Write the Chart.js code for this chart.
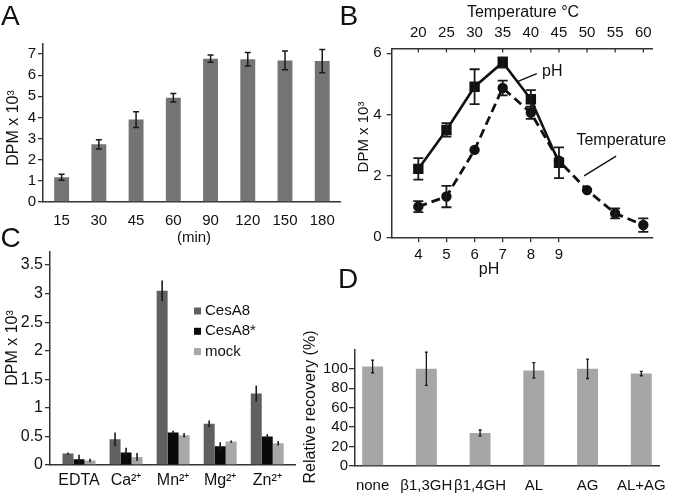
<!DOCTYPE html>
<html>
<head>
<meta charset="utf-8">
<script src="https://cdn.jsdelivr.net/npm/chart.js@4.4.1/dist/chart.umd.min.js"></script>
<style>
body { margin: 0; background: #fff; }
#wrap { position: relative; width: 677px; height: 496px; overflow: hidden; }
canvas { position: absolute; }
</style>
</head>
<body>
<div id="wrap">
<canvas id="chartA" width="345" height="250" style="left:0px;top:0px"></canvas>
<canvas id="chartB" width="347" height="285" style="left:330px;top:0px"></canvas>
<canvas id="chartC" width="340" height="276" style="left:0px;top:220px"></canvas>
<canvas id="chartD" width="382" height="241" style="left:295px;top:255px"></canvas>
</div>
<script>
// A - time course
const timeLabels = ['15', '30', '45', '60', '90', '120', '150', '180'];
const timeDPM = [1.17, 2.73, 3.9, 4.93, 6.78, 6.76, 6.7, 6.67];
const timeErr = [0.14, 0.22, 0.37, 0.2, 0.17, 0.32, 0.44, 0.55];
const timeTicks = [0, 1, 2, 3, 4, 5, 6, 7];

// B - pH and temperature
const phValues = [4, 5, 6, 7, 8, 9];
const phDPM = [2.23, 3.5, 4.91, 5.7, 4.5, 2.43];
const phErr = [0.35, 0.22, 0.57, 0.17, 0.3, 0.5];
const tempValues = [20, 25, 30, 35, 40, 45, 50, 55, 60];
const tempDPM = [1.0, 1.33, 2.85, 4.87, 4.06, 2.5, 1.54, 0.78, 0.4];
const tempErr = [0.18, 0.35, 0, 0.24, 0.2, 0, 0, 0.16, 0.22];
const dpmTicksB = [0, 2, 4, 6];

// C - metal ions
const ionLabels = ['EDTA', 'Ca²⁺', 'Mn²⁺', 'Mg²⁺', 'Zn²⁺'];
const cesA8 = [0.2, 0.45, 3.05, 0.72, 1.25];
const cesA8Err = [0.02, 0.12, 0.18, 0.06, 0.14];
const cesA8mut = [0.1, 0.22, 0.57, 0.33, 0.5];
const cesA8mutErr = [0.08, 0.08, 0.03, 0.07, 0.04];
const mock = [0.08, 0.14, 0.52, 0.41, 0.38];
const mockErr = [0.03, 0.07, 0.04, 0.02, 0.04];
const dpmTicksC = [0, 0.5, 1, 1.5, 2, 2.5, 3, 3.5];

// D - relative recovery
const enzymeLabels = ['none', 'β1,3GH', 'β1,4GH', 'AL', 'AG', 'AL+AG'];
const recovery = [102.4, 100, 34, 98.3, 100, 95];
const recoveryErr = [6.5, 17, 3, 8, 10, 2.2];
const recoveryTicks = [0, 20, 40, 60, 80, 100];

const FONT = "'Liberation Sans', Arial, Helvetica, sans-serif";
const AXIS = '#333';
Chart.defaults.font.family = FONT;
Chart.defaults.font.size = 15;
Chart.defaults.color = '#111';
Chart.defaults.animation = false;
Chart.defaults.plugins.legend.display = false;
Chart.defaults.plugins.tooltip.enabled = false;

// vertical error bars from a dataset's "errors" array
const errorBars = {
    id: 'errorBars',
    afterDatasetsDraw(chart, args, opts) {
        const ctx = chart.ctx;
        chart.data.datasets.forEach((ds, i) => {
            if (!ds.errors) return;
            const meta = chart.getDatasetMeta(i);
            const ys = chart.scales[meta.yAxisID];
            ctx.save();
            ctx.strokeStyle = opts.color || '#1a1a1a';
            ctx.lineWidth = opts.width || 1.5;
            meta.data.forEach((el, j) => {
                const e = ds.errors[j];
                if (!e) return;
                const d = ds.data[j];
                const v = typeof d === 'object' ? d.y : d;
                const top = ys.getPixelForValue(v + e);
                const bot = ys.getPixelForValue(v - e);
                const cap = opts.cap || 0;
                ctx.beginPath();
                ctx.moveTo(el.x, top);
                ctx.lineTo(el.x, bot);
                if (cap) {
                    ctx.moveTo(el.x - cap, top);
                    ctx.lineTo(el.x + cap, top);
                    ctx.moveTo(el.x - cap, bot);
                    ctx.lineTo(el.x + cap, bot);
                }
                ctx.stroke();
            });
            ctx.restore();
        });
    }
};

// free text: panel letters, axis titles
const texts = {
    id: 'texts',
    afterDraw(chart, args, opts) {
        const ctx = chart.ctx;
        (opts.items || []).forEach(it => {
            ctx.save();
            ctx.font = (it.size || 15) + 'px ' + FONT;
            ctx.fillStyle = '#111';
            ctx.textAlign = it.align || 'center';
            ctx.textBaseline = it.base || 'middle';
            ctx.translate(it.x, it.y);
            if (it.rot) ctx.rotate(it.rot);
            ctx.fillText(it.t, 0, 0);
            ctx.restore();
        });
    }
};

// labels with leader lines, placed in data coordinates
const callouts = {
    id: 'callouts',
    afterDatasetsDraw(chart, args, opts) {
        if (!opts.items) return;
        const xs = chart.scales.x, ys = chart.scales.y, ctx = chart.ctx;
        opts.items.forEach(c => {
            ctx.save();
            ctx.strokeStyle = '#111';
            ctx.lineWidth = 1.4;
            ctx.beginPath();
            ctx.moveTo(xs.getPixelForValue(c.line[0]), ys.getPixelForValue(c.line[1]));
            ctx.lineTo(xs.getPixelForValue(c.line[2]), ys.getPixelForValue(c.line[3]));
            ctx.stroke();
            ctx.font = '16px ' + FONT;
            ctx.fillStyle = '#111';
            ctx.textAlign = 'left';
            ctx.textBaseline = 'middle';
            ctx.fillText(c.t, xs.getPixelForValue(c.x), ys.getPixelForValue(c.y));
            ctx.restore();
        });
    }
};

// tick marks pointing into the plot (top axis of B)
const innerTicks = {
    id: 'innerTicks',
    afterDraw(chart, args, opts) {
        if (!opts.axis) return;
        const s = chart.scales[opts.axis], ctx = chart.ctx;
        ctx.save();
        ctx.strokeStyle = AXIS;
        ctx.lineWidth = 1.3;
        s.ticks.forEach(t => {
            const x = s.getPixelForValue(t.value);
            ctx.beginPath();
            ctx.moveTo(x, s.bottom);
            ctx.lineTo(x, s.bottom + opts.len);
            ctx.stroke();
        });
        ctx.restore();
    }
};

// small square legend inside panel C
const boxLegend = {
    id: 'boxLegend',
    afterDraw(chart, args, opts) {
        if (!opts.x) return;
        const ctx = chart.ctx;
        ctx.save();
        ctx.font = '15px ' + FONT;
        ctx.textBaseline = 'middle';
        ctx.textAlign = 'left';
        chart.data.datasets.forEach((ds, i) => {
            const y = opts.y + i * opts.gap;
            ctx.fillStyle = ds.backgroundColor;
            ctx.fillRect(opts.x, y - 3.5, 7, 7);
            ctx.fillStyle = '#111';
            ctx.fillText(ds.label, opts.x + 11, y);
        });
        ctx.restore();
    }
};

Chart.register(errorBars, texts, callouts, innerTicks, boxLegend);

const border = { color: AXIS, width: 1.5 };
const setTicks = list => s => { s.ticks = list.map(v => ({ value: v })); };

new Chart(document.getElementById('chartA'), {
    type: 'bar',
    data: {
        labels: timeLabels,
        datasets: [{
            data: timeDPM,
            errors: timeErr,
            backgroundColor: '#747474',
            barPercentage: 0.4,
            categoryPercentage: 1
        }]
    },
    options: {
        responsive: false,
        devicePixelRatio: 1,
        layout: { padding: { top: 43.5, right: 4, left: 0, bottom: 0 } },
        scales: {
            x: {
                grid: { display: false, drawTicks: false },
                border: border,
                ticks: { padding: 10, maxRotation: 0, autoSkip: false },
                afterFit: s => { s.height = 48; }
            },
            y: {
                min: 0,
                max: 7.5,
                grid: { drawOnChartArea: false, color: AXIS, tickLength: 5, lineWidth: 1.3 },
                border: border,
                ticks: { padding: 2, callback: v => String(v) },
                afterBuildTicks: setTicks(timeTicks),
                afterFit: s => { s.width = 43; }
            }
        },
        plugins: {
            errorBars: { cap: 3, width: 1.5 },
            texts: {
                items: [
                    { t: 'A', x: 1, y: 25, size: 28, align: 'left', base: 'alphabetic' },
                    { t: 'DPM x 10³', x: 13.5, y: 128, size: 16, rot: -Math.PI / 2 },
                    { t: '(min)', x: 194, y: 238, size: 15 }
                ]
            }
        }
    }
});

new Chart(document.getElementById('chartB'), {
    type: 'scatter',
    data: {
        datasets: [{
            label: 'pH',
            data: phValues.map((p, i) => ({ x: p, y: phDPM[i] })),
            errors: phErr,
            showLine: true,
            borderColor: '#111',
            backgroundColor: '#111',
            borderWidth: 2.6,
            pointStyle: 'rect',
            pointRadius: 5.5,
            xAxisID: 'x'
        }, {
            label: 'Temperature',
            data: tempValues.map((t, i) => ({ x: t, y: tempDPM[i] })),
            errors: tempErr,
            showLine: true,
            borderColor: '#111',
            backgroundColor: '#111',
            borderWidth: 2.8,
            borderDash: [9, 5],
            pointStyle: 'circle',
            pointRadius: 3.8,
            xAxisID: 'x2'
        }]
    },
    options: {
        responsive: false,
        devicePixelRatio: 1,
        layout: { padding: { top: 0, right: 24.3, left: 0, bottom: 0 } },
        scales: {
            x: {
                type: 'linear',
                position: 'bottom',
                offset: false,
                min: 3.054,
                max: 12.33,
                grid: { drawOnChartArea: false, color: AXIS, tickLength: 5, lineWidth: 1.3 },
                border: border,
                ticks: { padding: 4, maxRotation: 0, autoSkip: false },
                afterBuildTicks: setTicks(phValues),
                afterFit: s => { s.height = 47.7; }
            },
            x2: {
                type: 'linear',
                position: 'top',
                offset: false,
                min: 15.27,
                max: 61.67,
                grid: { display: false, drawTicks: false },
                border: border,
                ticks: { padding: 7, maxRotation: 0, autoSkip: false },
                afterBuildTicks: setTicks(tempValues),
                afterFit: s => { s.height = 48.4; }
            },
            y: {
                min: 0,
                max: 6.16,
                grid: { drawOnChartArea: false, color: AXIS, tickLength: 5, lineWidth: 1.3 },
                border: border,
                ticks: { padding: 5 },
                afterBuildTicks: setTicks(dpmTicksB),
                afterFit: s => { s.width = 61.7; }
            }
        },
        plugins: {
            errorBars: { cap: 5, width: 1.8 },
            innerTicks: { axis: 'x2', len: 4 },
            callouts: {
                items: [
                    { t: 'pH', x: 8.4, y: 5.39, line: [7.5, 5.07, 8.21, 5.34] },
                    { t: 'Temperature', x: 9.62, y: 3.14, line: [11.03, 2.65, 9.89, 2.0] }
                ]
            },
            texts: {
                items: [
                    { t: 'B', x: 9.5, y: 25, size: 28, align: 'left', base: 'alphabetic' },
                    { t: 'Temperature °C', x: 193, y: 13, size: 16 },
                    { t: 'pH', x: 159, y: 270, size: 16 },
                    { t: 'DPM x 10³', x: 34, y: 137, size: 15, rot: -Math.PI / 2 }
                ]
            }
        }
    }
});

new Chart(document.getElementById('chartC'), {
    type: 'bar',
    data: {
        datasets: [{
            label: 'CesA8',
            data: cesA8.map((v, i) => ({ x: i, y: v })),
            errors: cesA8Err,
            backgroundColor: '#606060'
        }, {
            label: 'CesA8*',
            data: cesA8mut.map((v, i) => ({ x: i, y: v })),
            errors: cesA8mutErr,
            backgroundColor: '#0a0a0a'
        }, {
            label: 'mock',
            data: mock.map((v, i) => ({ x: i, y: v })),
            errors: mockErr,
            backgroundColor: '#a8a8a8'
        }]
    },
    options: {
        responsive: false,
        devicePixelRatio: 1,
        datasets: { bar: { barPercentage: 1, categoryPercentage: 0.7 } },
        layout: { padding: { top: 31.7, right: 45, left: 0, bottom: 0 } },
        scales: {
            x: {
                type: 'linear',
                offset: false,
                min: -0.616,
                max: 4.59,
                grid: { display: false, drawTicks: false, offset: false },
                border: border,
                ticks: { padding: 6, maxRotation: 0, autoSkip: false, font: { size: 16 }, callback: v => ionLabels[v] },
                afterBuildTicks: setTicks(ionLabels.map((_, i) => i)),
                afterFit: s => { s.height = 31; }
            },
            y: {
                min: 0,
                max: 3.733,
                grid: { drawOnChartArea: false, color: AXIS, tickLength: 5, lineWidth: 1.3 },
                border: border,
                ticks: { padding: 2, font: { size: 16 }, callback: v => String(v) },
                afterBuildTicks: setTicks(dpmTicksC),
                afterFit: s => { s.width = 50; }
            }
        },
        plugins: {
            errorBars: { cap: 0, width: 1.6 },
            boxLegend: { x: 194, y: 91, gap: 20.3 },
            texts: {
                items: [
                    { t: 'C', x: 0.5, y: 27, size: 28, align: 'left', base: 'alphabetic' },
                    { t: 'DPM x 10³', x: 13, y: 128, size: 16, rot: -Math.PI / 2 }
                ]
            }
        }
    }
});

new Chart(document.getElementById('chartD'), {
    type: 'bar',
    data: {
        datasets: [{
            data: recovery.map((v, i) => ({ x: i, y: v })),
            errors: recoveryErr,
            backgroundColor: '#a6a6a6',
            barPercentage: 0.39,
            categoryPercentage: 1
        }]
    },
    options: {
        responsive: false,
        devicePixelRatio: 1,
        layout: { padding: { top: 94.3, right: 5.3, left: 0, bottom: 0 } },
        scales: {
            x: {
                type: 'linear',
                offset: false,
                min: -0.328,
                max: 5.344,
                grid: { display: false, drawTicks: false, offset: false },
                border: border,
                ticks: { padding: 11, maxRotation: 0, autoSkip: false, font: { size: 15 }, callback: v => enzymeLabels[v] },
                afterBuildTicks: setTicks(enzymeLabels.map((_, i) => i)),
                afterFit: s => { s.height = 30; }
            },
            y: {
                min: 0,
                max: 120,
                grid: { drawOnChartArea: false, color: AXIS, tickLength: 6, lineWidth: 1.3 },
                border: border,
                ticks: { padding: 1 },
                afterBuildTicks: setTicks(recoveryTicks),
                afterFit: s => { s.width = 60; }
            }
        },
        plugins: {
            errorBars: { cap: 1.5, width: 1.3 },
            texts: {
                items: [
                    { t: 'D', x: 43, y: 33, size: 28, align: 'left', base: 'alphabetic' },
                    { t: 'Relative recovery (%)', x: 16, y: 152, size: 16, rot: -Math.PI / 2 }
                ]
            }
        }
    }
});
</script>
</body>
</html>
